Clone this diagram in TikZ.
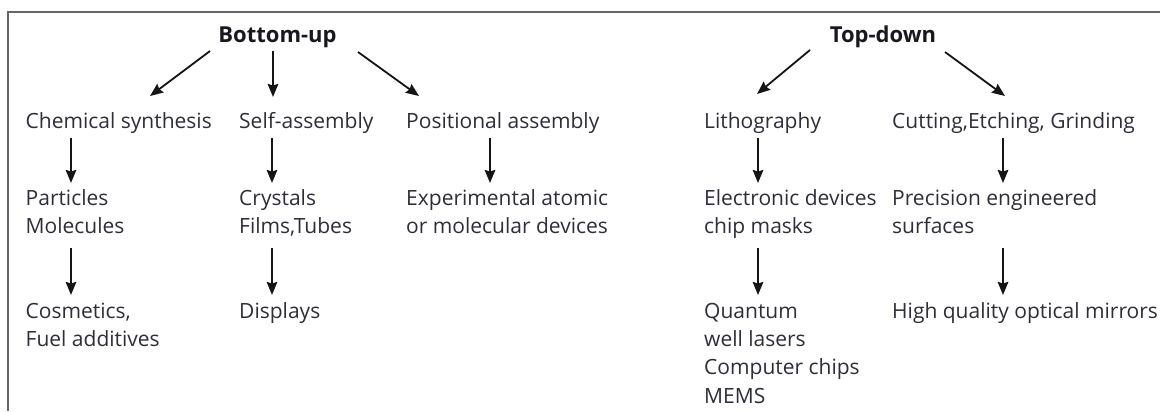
\documentclass[tikz,border=0pt]{standalone}
\usepackage{fontspec}
\setmainfont{Open Sans}
\usetikzlibrary{arrows.meta,calc}
\definecolor{tc}{HTML}{2E2E38}
\definecolor{hc}{HTML}{18181E}
\definecolor{lc}{HTML}{151515}
\definecolor{bc}{HTML}{666666}
\newcommand{\fst}{\rule{0pt}{16.5bp}}
\begin{document}
\begin{tikzpicture}[x=1bp,y=-1bp,
  lbl/.style={anchor=base west, inner sep=0pt, font=\fontsize{21bp}{28.3bp}\selectfont, text=tc},
  mlbl/.style={anchor=north west, inner sep=0pt, align=left, font=\fontsize{21bp}{28.3bp}\selectfont, text=tc},
  head/.style={anchor=base, inner sep=0pt, font=\fontsize{22bp}{28.3bp}\selectfont\bfseries, text=hc},
  arr/.style={draw=lc, line width=2.1bp, -{Stealth[length=13bp,width=10.5bp,inset=1.5bp]}},
  darr/.style={draw=lc, line width=1.8bp, -{Stealth[length=13bp,width=10.5bp,inset=1.5bp]}}]
\useasboundingbox (0,0) rectangle (1160,411);
\draw[bc, line width=1.3bp] (8,411) -- (8,12) -- (1160,12);
% headings
\node[head] (bu) at (277.5,42) {Bottom-up};
\node[head] (td) at (883,42) {Top-down};
% row 1
\node[lbl] (cs) at (25.5,128) {Chemical synthesis};
\node[lbl] (sa) at (239,128) {Self-assembly};
\node[lbl] (pa) at (406,128) {Positional assembly};
\node[lbl] (li) at (704,128) {Lithography};
\node[lbl] (cu) at (892,128) {Cutting,Etching, Grinding};
% row 2
\node[mlbl] (pm) at (25.5,188.5) {\fst Particles\\Molecules};
\node[mlbl] (cf) at (239,188.5) {\fst Crystals\\Films,Tubes};
\node[mlbl] (ex) at (406,188.5) {\fst Experimental atomic\\or molecular devices};
\node[mlbl] (ed) at (704,188.5) {\fst Electronic devices\\chip masks};
\node[mlbl] (pe) at (892,188.5) {\fst Precision engineered\\surfaces};
% row 3
\node[mlbl] (co) at (25.5,301.5) {\fst Cosmetics,\\Fuel additives};
\node[mlbl] (di) at (239,301.5) {\fst Displays};
\node[mlbl] (qu) at (704,301.5) {\fst Quantum\\well lasers\\Computer chips\\MEMS};
\node[mlbl] (hq) at (892,301.5) {\fst High quality optical mirrors};
% diagonal arrows
\draw[darr] ($(bu.base)+(-67.5,9)$) -- ($(cs.base west)+(124.5,-32)$);
\draw[arr]  ($(bu.base)+(-4.5,9)$) -- ($(sa.base west)+(34,-31)$);
\draw[darr] ($(bu.base)+(80.5,10)$) -- ($(pa.base west)+(13,-32)$);
\draw[darr] ($(td.base)+(-73,8)$) -- ($(li.base west)+(53,-34)$);
\draw[darr] ($(td.base)+(62,10)$) -- ($(cu.base west)+(113,-32)$);
% vertical arrows row1 -> row2
\draw[arr] ($(cs.base west)+(45.5,10)$) -- ($(pm.north west)+(45.5,-5.5)$);
\draw[arr] ($(sa.base west)+(33,10)$) -- ($(cf.north west)+(33,-5.5)$);
\draw[arr] ($(pa.base west)+(84,10)$) -- ($(ex.north west)+(84,-5.5)$);
\draw[arr] ($(li.base west)+(54,10)$) -- ($(ed.north west)+(54,-5.5)$);
\draw[arr] ($(cu.base west)+(111,10)$) -- ($(pe.north west)+(111,-5.5)$);
% vertical arrows row2 -> row3
\draw[arr] ($(pm.north west)+(45.5,59.5)$) -- ($(co.north west)+(45.5,-6.5)$);
\draw[arr] ($(cf.north west)+(33,59.5)$) -- ($(di.north west)+(33,-6.5)$);
\draw[arr] ($(ed.north west)+(54,59.5)$) -- ($(qu.north west)+(54,-6.5)$);
\draw[arr] ($(pe.north west)+(111,59.5)$) -- ($(hq.north west)+(111,-6.5)$);
\end{tikzpicture}
\end{document}
